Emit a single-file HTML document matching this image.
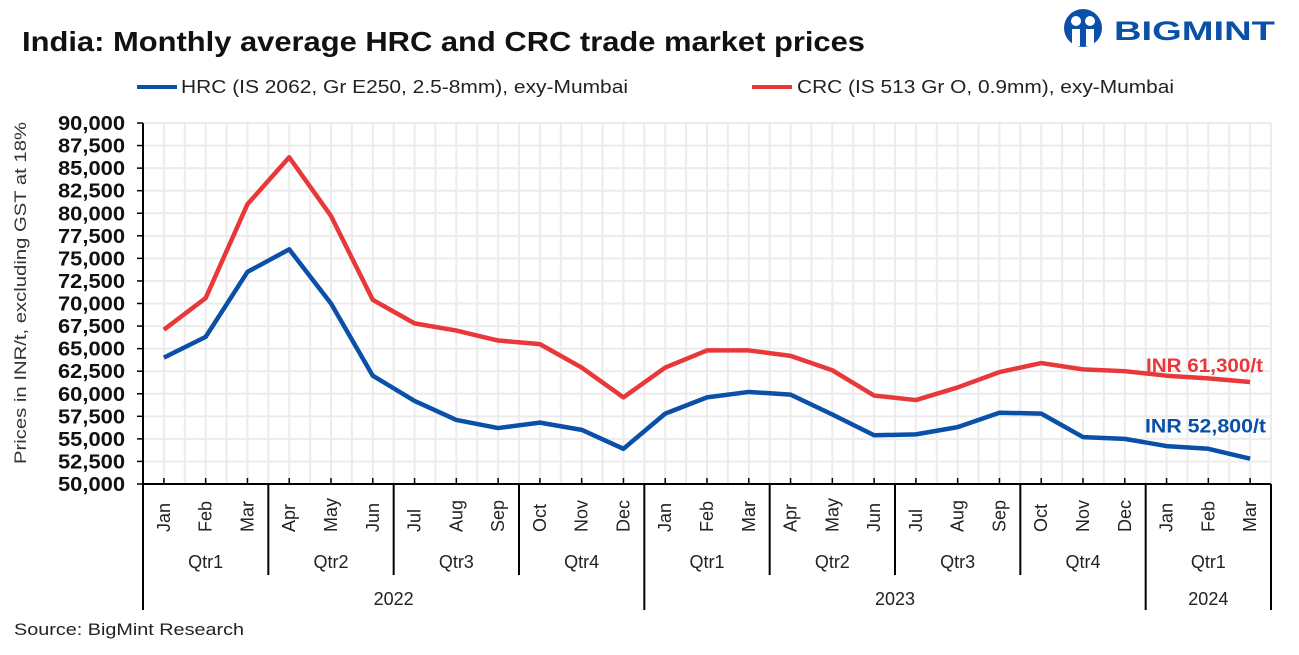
<!DOCTYPE html>
<html><head><meta charset="utf-8"><style>
body{margin:0;background:#fff;width:1299px;height:650px;overflow:hidden;font-family:"Liberation Sans",sans-serif}
</style></head><body>
<svg id="c" width="1299" height="650" xmlns="http://www.w3.org/2000/svg">
<text x="22" y="51" font-size="28" font-weight="bold" fill="#111" textLength="843" lengthAdjust="spacingAndGlyphs">India: Monthly average HRC and CRC trade market prices</text>
<g>
<circle cx="1083" cy="28" r="19" fill="#0a4fa8"/>
<circle cx="1076" cy="21" r="5" fill="#fff"/><circle cx="1090" cy="21" r="5" fill="#fff"/>
<rect x="1072" y="29" width="8" height="17" fill="#fff"/><rect x="1086" y="29" width="8" height="17" fill="#fff"/>
<text x="1114" y="40" font-size="27" font-weight="bold" fill="#0a4fa8" textLength="161" lengthAdjust="spacingAndGlyphs">BIGMINT</text>
</g>
<g>
<line x1="137" y1="87" x2="177" y2="87" stroke="#0a4fa8" stroke-width="4"/>
<text x="181" y="93" font-size="18" fill="#222" textLength="447" lengthAdjust="spacingAndGlyphs">HRC (IS 2062, Gr E250, 2.5-8mm),  exy-Mumbai</text>
<line x1="752" y1="87" x2="792" y2="87" stroke="#e8383a" stroke-width="4"/>
<text x="797" y="93" font-size="18" fill="#222" textLength="377" lengthAdjust="spacingAndGlyphs">CRC (IS 513 Gr O, 0.9mm),  exy-Mumbai</text>
</g>
<text transform="translate(26,293) rotate(-90)" text-anchor="middle" font-size="17" fill="#333" textLength="342" lengthAdjust="spacingAndGlyphs">Prices in INR/t, excluding GST at 18%</text>
<g id="g"></g>
<text x="14" y="635" font-size="17" fill="#222" textLength="230" lengthAdjust="spacingAndGlyphs">Source: BigMint Research</text>
</svg>
<script>
const months=["Jan","Feb","Mar","Apr","May","Jun","Jul","Aug","Sep","Oct","Nov","Dec","Jan","Feb","Mar","Apr","May","Jun","Jul","Aug","Sep","Oct","Nov","Dec","Jan","Feb","Mar"];
const hrc=[64000,66300,73500,76000,70000,62000,59200,57100,56200,56800,56000,53900,57800,59600,60200,59900,57700,55400,55500,56300,57900,57800,55200,55000,54200,53900,52800];
const crc=[67100,70600,81000,86200,79700,70400,67800,67000,65900,65500,62900,59600,62900,64800,64800,64200,62600,59800,59300,60700,62400,63400,62700,62500,62000,61700,61300];
const yTicks=[50000,52500,55000,57500,60000,62500,65000,67500,70000,72500,75000,77500,80000,82500,85000,87500,90000];
const quarters=["Qtr1","Qtr2","Qtr3","Qtr4","Qtr1","Qtr2","Qtr3","Qtr4","Qtr1"];
const years=["2022","2023","2024"];
const yearLen=[12,12,3];
const labels=["INR 52,800/t","INR 61,300/t"];
const X0=143,X1=1271,Y0=484,Y1=123,YMIN=50000,YMAX=90000;
const n=months.length,bw=(X1-X0)/n;
const x=i=>X0+bw*(i+0.5), y=v=>Y0-(v-YMIN)/(YMAX-YMIN)*(Y0-Y1);
const g=document.getElementById('g');
function mk(t,a,name){const e=document.createElementNS('http://www.w3.org/2000/svg',t);for(const k in a)e.setAttribute(k,a[k]);


g.appendChild(e);return e;}
for(let k=0;k<=2*n;k++){const xx=X0+k*bw/2;mk('line',{x1:xx,x2:xx,y1:Y1,y2:Y0,stroke:'#ececec','stroke-width':2},'v-gridline');}
yTicks.forEach(v=>{mk('line',{x1:X0,x2:X1,y1:y(v),y2:y(v),stroke:'#ececec','stroke-width':2},'h-gridline');
mk('line',{x1:X0-6,x2:X0,y1:y(v),y2:y(v),stroke:'#000','stroke-width':1.5},'y-tick');
const t=mk('text',{x:X0-18,y:y(v)+7,'text-anchor':'end','font-size':20,'font-weight':'bold',fill:'#111',textLength:67,lengthAdjust:'spacingAndGlyphs'},'y-tick-label');t.textContent=v.toLocaleString('en-US');});
mk('line',{x1:X0,x2:X0,y1:Y1,y2:610,stroke:'#000','stroke-width':2},'y-axis-line');
mk('line',{x1:X1,x2:X1,y1:Y0,y2:610,stroke:'#000','stroke-width':2},'x-axis-right-edge');
mk('line',{x1:X0,x2:X1,y1:Y0,y2:Y0,stroke:'#000','stroke-width':2},'x-axis-line');
months.forEach((m,i)=>{mk('line',{x1:x(i),x2:x(i),y1:Y0-6,y2:Y0,stroke:'#000','stroke-width':1.5},'x-tick');
const t=mk('text',{transform:`translate(${x(i)+6},${Y0+48}) rotate(-90)`,'font-size':18,fill:'#222'},'x-month-label');t.textContent=m;});
quarters.forEach((q,k)=>{const s=k*3,e=Math.min(s+3,n);const xe=X0+e*bw;
if(e<n)mk('line',{x1:xe,x2:xe,y1:Y0,y2:(e%12==0)?610:575,stroke:'#000','stroke-width':2},'quarter-separator');
const t=mk('text',{x:X0+(s+e)/2*bw,y:568,'text-anchor':'middle','font-size':18,fill:'#222'},'quarter-label');t.textContent=q;});
let acc=0;years.forEach((yy,k)=>{const s=acc,e=acc+yearLen[k];acc=e;
const t=mk('text',{x:X0+(s+e)/2*bw,y:605,'text-anchor':'middle','font-size':18,fill:'#222'},'year-label');t.textContent=yy;});
function line(d,c,name){mk('polyline',{points:d.map((v,i)=>x(i)+','+y(v)).join(' '),fill:'none',stroke:c,'stroke-width':4.5,'stroke-linejoin':'round'},name);}
line(crc,'#e8383a','crc-line');line(hrc,'#0a4fa8','hrc-line');
let t=mk('text',{x:1266,y:y(hrc[n-1])-26,'text-anchor':'end','font-size':19,'font-weight':'bold',fill:'#0a4fa8',textLength:121,lengthAdjust:'spacingAndGlyphs'},'hrc-end-label');t.textContent=labels[0];
t=mk('text',{x:1263,y:y(crc[n-1])-10,'text-anchor':'end','font-size':19,'font-weight':'bold',fill:'#e8383a',textLength:117,lengthAdjust:'spacingAndGlyphs'},'crc-end-label');t.textContent=labels[1];
</script>
</body></html>
